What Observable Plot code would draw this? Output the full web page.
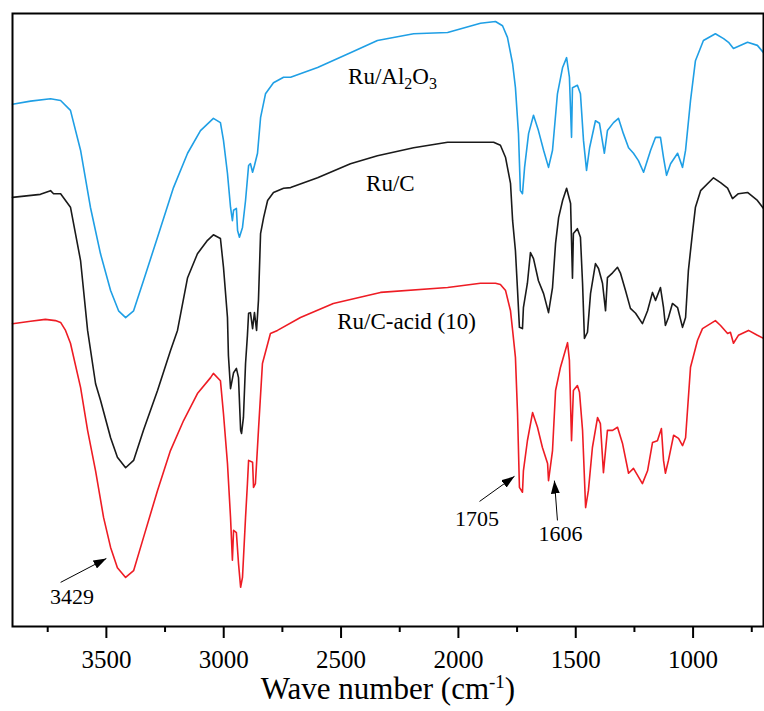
<!DOCTYPE html>
<html>
<head>
<meta charset="utf-8">
<script src="https://cdn.jsdelivr.net/npm/d3@7"></script>
<script src="https://cdn.jsdelivr.net/npm/@observablehq/plot@0.6"></script>
<style>
  html, body { margin: 0; padding: 0; background: #fff; }
  #chart svg { display: block; }
</style>
</head>
<body>
<div id="chart"></div>
<script>
// ---- Data (wavenumber in cm-1, transmittance in a.u.) ----
const alWave = [3900,3823,3738,3695,3653,3610,3568,3525,3482,3448,3418,3384,3342,3282,3214,3154,3099,3044,3014,3001,2984,2971,2963,2958,2946,2941,2933,2920,2907,2894,2886,2877,2869,2856,2843,2822,2788,2745,2715,2600,2460,2345,2191,2046,1906,1842,1812,1791,1769,1757,1744,1736,1727,1718,1701,1680,1659,1637,1616,1599,1578,1556,1539,1527,1518,1514,1493,1480,1467,1454,1441,1416,1399,1378,1365,1339,1318,1297,1275,1254,1233,1211,1181,1160,1139,1126,1113,1096,1066,1045,1032,1011,990,956,905,870,849,828,768,726,700];
const alT    = [85.2,85.7,86.1,85.8,84.2,77.7,68.4,60.8,54.8,51.5,50.4,51.5,56.4,63.5,71.6,77.2,80.9,82.9,82.2,79.3,73.9,68.4,66.2,67.9,68.2,64.6,63.5,65.1,69.5,75.2,75.5,74.1,75.2,77.2,83.0,86.9,88.7,89.6,89.6,91.2,93.6,95.6,96.7,96.9,98.4,98.7,98.0,96.1,91.8,87.9,80.4,71.1,70.6,74.9,80.4,83.4,80.9,77.7,74.9,77.7,86.9,91.2,92.8,89.6,79.8,87.9,88.3,86.9,79.3,74.4,78.1,82.5,82.1,77.2,80.9,82.2,82.9,80.4,78.1,77.2,76.0,74.1,77.7,79.8,79.8,76.5,73.6,75.5,77.2,74.9,77.7,85.8,92.3,95.6,96.7,95.9,95.3,94.3,95.3,94.8,93.6];

const cWave = [3900,3781,3738,3725,3695,3653,3610,3580,3546,3525,3482,3453,3418,3384,3342,3282,3227,3197,3154,3112,3069,3044,3014,3001,2984,2980,2971,2958,2946,2937,2928,2924,2916,2907,2899,2894,2886,2877,2869,2860,2852,2843,2830,2813,2788,2745,2715,2600,2460,2345,2191,2046,1906,1850,1821,1799,1778,1769,1757,1748,1740,1727,1723,1706,1693,1680,1659,1637,1616,1599,1586,1573,1556,1539,1522,1514,1510,1493,1480,1471,1463,1450,1437,1416,1403,1386,1373,1365,1343,1322,1309,1288,1267,1245,1216,1194,1173,1160,1139,1126,1118,1105,1088,1066,1045,1032,1020,1003,990,968,913,883,853,832,807,768,726,700];
const cT    = [70.0,70.5,71.1,70.6,70.6,68.4,59.7,48.3,39.6,36.9,30.8,27.6,25.9,27.1,32.0,38.5,45.0,48.3,56.9,60.8,63.0,63.9,63.3,58.6,50.4,44.2,38.8,41.4,42.1,40.6,32.0,31.5,34.1,42.9,47.5,51.1,51.2,48.6,51.2,48.3,53.2,64.1,66.7,69.5,70.8,71.5,71.6,73.2,75.5,76.8,78.1,79.0,79.0,79.0,78.5,76.5,72.3,66.2,61.3,54.8,48.8,48.6,52.0,56.0,61.0,60.0,56.4,54.3,51.2,55.3,62.5,66.7,69.5,71.5,69.0,56.8,64.1,64.9,63.5,56.0,47.0,48.0,54.3,59.2,58.4,56.0,51.5,56.9,57.7,58.6,57.6,54.8,51.9,51.1,49.4,51.5,54.5,53.2,55.3,52.0,49.1,50.4,52.7,52.0,48.8,50.4,58.1,64.1,68.4,71.1,73.2,72.4,71.5,69.8,70.6,70.8,69.5,68.2];

const acidWave = [3900,3823,3760,3717,3695,3674,3653,3610,3580,3546,3512,3482,3453,3418,3384,3342,3282,3227,3171,3112,3056,3044,3014,3001,2984,2971,2963,2958,2946,2937,2928,2920,2907,2899,2894,2877,2873,2865,2852,2835,2801,2771,2673,2533,2387,2332,2046,1906,1842,1821,1799,1778,1769,1757,1748,1740,1727,1723,1706,1684,1663,1642,1620,1616,1599,1586,1565,1535,1527,1518,1510,1493,1484,1471,1458,1446,1429,1407,1395,1382,1365,1343,1322,1301,1275,1254,1216,1194,1173,1152,1135,1126,1118,1105,1083,1062,1045,1032,1011,981,960,905,883,853,841,828,807,764,726,700];
const acidT    = [49.4,49.8,50.1,49.9,49.6,48.3,46.2,39.0,32.0,25.4,17.8,12.9,9.6,8.0,9.1,14.5,22.2,28.7,33.6,38.0,40.6,41.3,40.1,34.7,26.6,17.8,10.8,15.7,15.3,10.3,6.4,8.0,17.8,23.3,27.1,26.8,22.7,23.3,32.0,42.9,47.8,48.3,50.4,52.7,54.0,54.5,55.3,56.0,56.0,55.8,54.8,51.5,48.3,43.9,34.7,22.7,21.9,25.4,30.3,34.9,32.5,29.2,26.6,23.8,28.7,38.5,42.3,46.3,43.4,30.3,38.5,39.3,38.2,32.0,19.4,22.2,29.2,34.1,33.1,25.1,32.0,32.0,32.5,29.9,25.0,25.8,23.3,25.4,30.0,30.3,32.3,27.1,25.0,27.1,31.2,30.7,29.5,30.8,42.3,46.7,48.6,49.9,49.1,47.8,48.0,46.2,47.5,48.3,47.5,47.0];

const seriesNames  = ["Ru/Al2O3", "Ru/C", "Ru/C-acid (10)"];
const seriesColors = ["#1f9fe5", "#1a1a1a", "#ee1c24"];
const labelWave = [2281, 2290, 2221];
const labelT    = [89.7, 72.2, 49.8];

const majorTicks = [3500, 3000, 2500, 2000, 1500, 1000];
const minorTicks = [3750, 3250, 2750, 2250, 1750, 1250, 750];

const peakLabels = ["3429", "1705", "1606"];
const peakTextWave = [3647, 1921, 1565];
const peakTextT    = [4.8, 17.5, 15.1];
const arrowFromWave = [3695, 1910, 1578];
const arrowFromT    = [7.2, 20.4, 17.3];
const arrowToWave   = [3500, 1761, 1591];
const arrowToT      = [11.1, 24.5, 23.8];

// ---- Build tables ----
const rows = [];
[[alWave, alT], [cWave, cT], [acidWave, acidT]].forEach(([w, t], i) => {
  w.forEach((x, j) => rows.push({series: seriesNames[i], wave: x, t: t[j]}));
});
const labels = seriesNames.map((s, i) => ({name: s, wave: labelWave[i], t: labelT[i]}));
const peaks = peakLabels.map((s, i) => ({
  text: s, wave: peakTextWave[i], t: peakTextT[i],
  x1: arrowFromWave[i], y1: arrowFromT[i], x2: arrowToWave[i], y2: arrowToT[i]
}));

const serif = "'Liberation Serif', 'Times New Roman', serif";

const filledArrow = (color) => d3.create("svg:marker")
  .attr("viewBox", "-13 -4.5 13 9")
  .attr("markerWidth", 13).attr("markerHeight", 9)
  .attr("markerUnits", "userSpaceOnUse")
  .attr("orient", "auto")
  .attr("refX", 0).attr("refY", 0)
  .attr("fill", color).attr("stroke", "none")
  .call(m => m.append("path").attr("d", "M-13,-4.5L0,0L-13,4.5Z"))
  .node();

const plot = Plot.plot({
  width: 764,
  height: 711,
  marginLeft: 12,
  marginRight: 1,
  marginTop: 13,
  marginBottom: 85,
  style: {fontFamily: serif, fontSize: "25px", color: "#000", background: "#fff"},
  x: {domain: [3900, 700]},
  y: {domain: [0, 100], axis: null},
  color: {domain: seriesNames, range: seriesColors},
  marks: [
    Plot.line(rows, {x: "wave", y: "t", z: "series", stroke: "series", strokeWidth: 1.6}),
    Plot.text(labels, {x: "wave", y: "t", text: "name", fontSize: 23, fontFamily: serif, fill: "#000"}),
    Plot.link(peaks, {x1: "x1", y1: "y1", x2: "x2", y2: "y2", stroke: "#000", strokeWidth: 1, markerEnd: filledArrow}),
    Plot.text(peaks, {x: "wave", y: "t", text: "text", fontSize: 22, fontFamily: serif, fill: "#000"}),
    Plot.axisX(minorTicks, {tickSize: 6, text: null, label: null, strokeWidth: 2}),
    Plot.axisX(majorTicks, {tickSize: 12, tickPadding: 12, strokeWidth: 2, tickFormat: d => String(d),
      fontFamily: serif, fontSize: 25, fontVariant: "normal", label: null}),
    Plot.axisX({ticks: [], tickSize: 0, label: "Wave number (cm-1)", labelAnchor: "center", labelArrow: "none",
      labelOffset: 72, fontSize: 31, fontFamily: serif}),
    Plot.frame({stroke: "#000", strokeWidth: 2})
  ]
});

// subscripts / superscripts
d3.select(plot).selectAll("text").each(function() {
  const el = d3.select(this);
  const t = this.textContent;
  if (t === "Ru/Al2O3") {
    el.text(null);
    el.append("tspan").text("Ru/Al");
    el.append("tspan").text("2").attr("font-size", 16).attr("dy", 5);
    el.append("tspan").text("O").attr("dy", -5);
    el.append("tspan").text("3").attr("font-size", 16).attr("dy", 5);
  } else if (t === "Wave number (cm-1)") {
    el.text(null);
    el.append("tspan").text("Wave number (cm");
    el.append("tspan").text("-1").attr("font-size", 19).attr("dy", -11);
    el.append("tspan").text(")").attr("dy", 11);
  }
});

document.getElementById("chart").appendChild(plot);
</script>
</body>
</html>
